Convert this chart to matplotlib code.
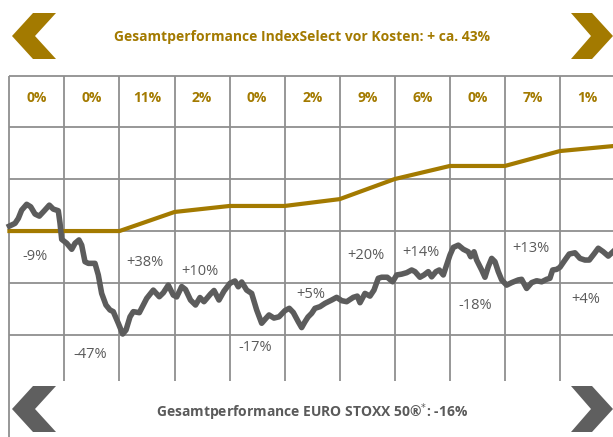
# Gesamtperformance IndexSelect vs. EURO STOXX 50 - Nachbau als Tabelle mit Linien

import numpy as np
from matplotlib import pyplot as plt
from matplotlib.patches import Polygon

# Farben
gold = '#a37a00'
grey_line = '#5c5c5c'
grid_col = '#8f8f8f'
text_grey = '#5a5a5a'

# Daten (x in Jahren ab Start, y als Indexniveau, Start IndexSelect = 100)
years = np.arange(11)
select_yearly = ['0%', '0%', '11%', '2%', '0%', '2%', '9%', '6%', '0%', '7%', '1%']
stoxx_yearly = ['-9%', '-47%', '+38%', '+10%', '-17%', '+5%', '+20%', '+14%', '-18%', '+13%', '+4%']
stoxx_label_level = [87.6, 40.6, 84.9, 80.7, 43.9, 69.6, 88.4, 89.5, 63.9, 91.7, 67.0]

select_t = [0, 1, 2, 3, 4, 5, 6, 7, 8, 9, 10, 10.965]
select_level = [100, 100, 100, 109.2, 112.1, 112.1, 115.4, 125.1, 131.4, 131.4, 138.6, 141.0]

stoxx_t = [0.0, 0.102, 0.162, 0.223, 0.314, 0.387, 0.465, 0.543, 0.634, 0.725,
           0.797, 0.888, 0.919, 0.950, 1.041, 1.132, 1.192, 1.264, 1.313, 1.373,
           1.433, 1.555, 1.615, 1.676, 1.754, 1.827, 1.887, 1.978, 2.058, 2.118,
           2.191, 2.251, 2.360, 2.494, 2.614, 2.723, 2.796, 2.886, 2.977, 3.039,
           3.130, 3.199, 3.290, 3.381, 3.462, 3.535, 3.653, 3.717, 3.807, 3.898,
           4.007, 4.098, 4.158, 4.220, 4.310, 4.401, 4.492, 4.583, 4.661, 4.716,
           4.806, 4.897, 5.006, 5.084, 5.157, 5.248, 5.309, 5.369, 5.424, 5.491,
           5.551, 5.642, 5.733, 5.854, 5.945, 6.036, 6.127, 6.247, 6.320, 6.369,
           6.459, 6.550, 6.623, 6.701, 6.762, 6.864, 6.962, 7.035, 7.125, 7.217,
           7.308, 7.368, 7.458, 7.531, 7.609, 7.671, 7.749, 7.809, 7.882, 7.943,
           8.003, 8.064, 8.155, 8.246, 8.336, 8.380, 8.440, 8.488, 8.579, 8.639,
           8.699, 8.761, 8.821, 8.881, 8.943, 9.033, 9.124, 9.244, 9.305, 9.396,
           9.487, 9.578, 9.669, 9.759, 9.819, 9.868, 9.941, 10.001, 10.092, 10.170,
           10.274, 10.365, 10.455, 10.534, 10.619, 10.697, 10.788, 10.879, 10.964]
stoxx_level = [102.4, 103.7, 106.1, 110.1, 112.9, 111.7, 108.2, 107.2, 109.8, 112.5,
               110.6, 109.8, 103.9, 96.0, 94.1, 91.2, 94.1, 95.7, 93.2, 85.2,
               84.4, 84.4, 78.8, 69.9, 64.3, 61.9, 61.1, 55.5, 50.3, 52.2,
               58.6, 61.1, 60.6, 67.5, 71.5, 68.3, 70.2, 73.9, 69.1, 68.2,
               73.2, 71.8, 66.7, 64.3, 67.9, 65.9, 69.6, 71.3, 66.7, 71.0,
               74.8, 75.9, 73.1, 75.4, 71.5, 69.9, 61.9, 55.5, 57.9, 59.5,
               58.0, 58.6, 61.6, 62.7, 60.7, 56.2, 53.4, 56.2, 58.5, 60.3,
               62.7, 63.5, 65.1, 66.7, 68.0, 66.4, 65.9, 68.0, 68.6, 65.4,
               69.9, 68.6, 71.5, 77.2, 77.7, 77.7, 75.5, 78.8, 79.2, 79.9,
               81.2, 80.4, 77.7, 78.8, 80.4, 77.9, 80.4, 81.2, 78.8, 83.6,
               88.4, 92.1, 93.2, 91.2, 90.0, 87.6, 90.0, 86.0, 81.2, 77.7,
               82.8, 86.8, 85.2, 80.4, 76.4, 73.9, 75.1, 76.4, 76.7, 72.3,
               75.1, 76.0, 75.5, 76.7, 77.2, 81.2, 81.5, 82.5, 86.0, 88.9,
               89.5, 86.8, 86.0, 86.0, 88.9, 91.7, 90.0, 87.9, 90.0]

title_top = 'Gesamtperformance IndexSelect vor Kosten: + ca. 43%'
title_bottom = 'Gesamtperformance EURO STOXX 50®$^{*}$: -16%'

# Figur
fig = plt.figure(figsize=(6.13, 4.37), dpi=100)
ax = fig.add_axes([0, 0, 1, 1])
ax.set_xlim(-0.1708, 10.965)
ax.set_ylim(0.6, 211.5)
ax.axis('off')

# Raster
row_lines = np.arange(50, 176, 25)
ax.hlines(row_lines, 0, 11, color=grid_col, linewidth=1.3, zorder=1)
ax.vlines(np.arange(1, 11), 27.8, 175, color=grid_col, linewidth=1.3, zorder=1)
ax.vlines(0, 0, 175, color=grid_col, linewidth=1.3, zorder=1)

# Linien
ax.plot(select_t, select_level, color=gold, linewidth=3.0,
        solid_joinstyle='round', zorder=3)
ax.plot(stoxx_t, stoxx_level, color=grey_line, linewidth=4.0,
        solid_joinstyle='round', zorder=4)

# Beschriftungen
for i in years:
    ax.text(i + 0.5, 164.2, select_yearly[i], color=gold, fontsize=10,
            fontweight='bold', family='Open Sans', ha='center', va='center')
    ax.text(i + 0.47, stoxx_label_level[i], stoxx_yearly[i], color=text_grey,
            fontsize=10.5, family='Open Sans', ha='center', va='center', zorder=5)

# Pfeile und Titel (Pixelkoordinaten)
deco = fig.add_axes([0, 0, 1, 1])
deco.set_xlim(0, 613)
deco.set_ylim(437, 0)
deco.axis('off')

chev_left = [(33, 13), (56, 13), (35, 36), (56, 59), (33, 59), (12, 36)]
chev_right = [(571, 13), (592, 13), (613, 36), (592, 59), (571, 59), (591, 36)]
for pts, col, dy in [(chev_left, gold, 0), (chev_right, gold, 0),
                     (chev_left, '#5f5f5f', 373), (chev_right, '#5f5f5f', 373)]:
    deco.add_patch(Polygon([(x, y + dy) for x, y in pts], closed=True,
                           facecolor=col, edgecolor='none'))

deco.text(302, 37, title_top, color=gold, fontsize=10, fontweight='bold',
          family='Open Sans', ha='center', va='center')
deco.text(312, 412, title_bottom, color='#5a5a5a', fontsize=10, fontweight='bold',
          family='Open Sans', ha='center', va='center')

plt.savefig('out.png', dpi=100)
